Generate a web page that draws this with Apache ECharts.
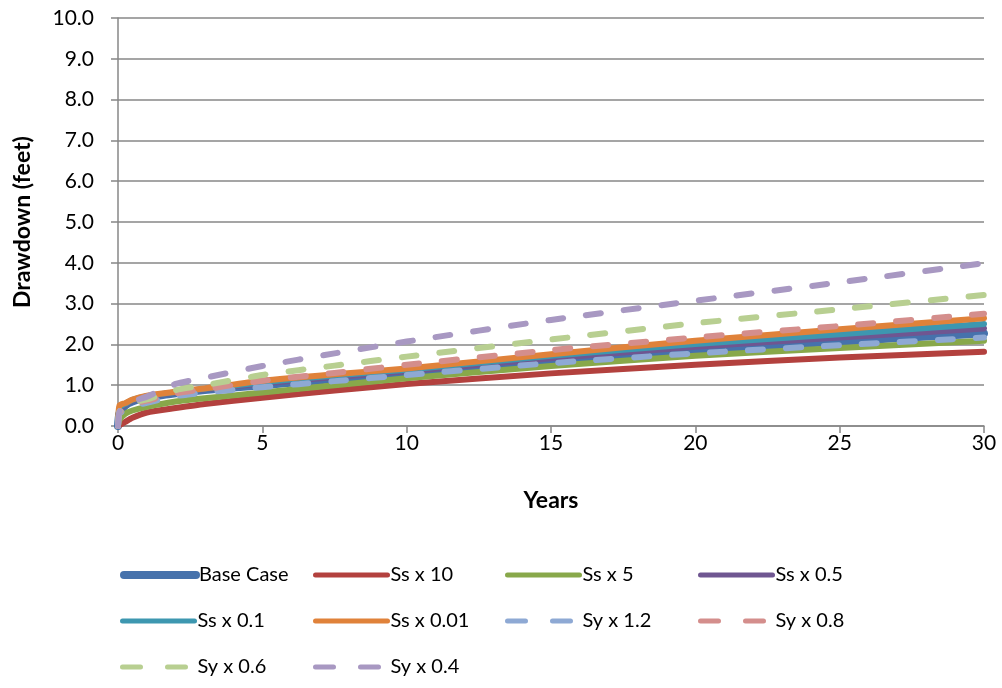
<!DOCTYPE html>
<html>
<head>
<meta charset="utf-8">
<script src="https://cdn.jsdelivr.net/npm/echarts@6/dist/echarts.min.js"></script>
<style>html,body{margin:0;padding:0;background:#fff}#c{width:1002px;height:688px}</style>
</head>
<body>
<div id="c"></div>
<script>
const years = [0, 0.05, 0.25, 0.5, 1, 2, 3, 5, 7.5, 10, 15, 20, 25, 30];
const baseCase = [0, 0.3, 0.5, 0.6, 0.7, 0.8, 0.88, 1.0, 1.15, 1.29, 1.59, 1.86, 2.07, 2.27];
const ssX10   = [0, 0.02, 0.1, 0.2, 0.33, 0.44, 0.54, 0.69, 0.87, 1.03, 1.29, 1.5, 1.68, 1.82];
const ssX5    = [0, 0.15, 0.3, 0.38, 0.47, 0.6, 0.68, 0.82, 1.0, 1.17, 1.47, 1.72, 1.91, 2.09];
const ssX05   = [0, 0.4, 0.52, 0.62, 0.72, 0.82, 0.9, 1.04, 1.2, 1.34, 1.66, 1.94, 2.17, 2.39];
const ssX01   = [0, 0.45, 0.54, 0.64, 0.73, 0.83, 0.91, 1.07, 1.24, 1.38, 1.72, 2.01, 2.25, 2.5];
const ssX001  = [0, 0.5, 0.56, 0.65, 0.74, 0.84, 0.92, 1.11, 1.27, 1.41, 1.76, 2.09, 2.37, 2.64];
const syX12   = [0, 0.3, 0.4, 0.48, 0.57, 0.73, 0.82, 0.95, 1.1, 1.25, 1.54, 1.78, 1.98, 2.17];
const syX08   = [0, 0.32, 0.45, 0.55, 0.62, 0.8, 0.9, 1.11, 1.3, 1.5, 1.86, 2.17, 2.45, 2.75];
const syX06   = [0, 0.35, 0.48, 0.58, 0.65, 0.88, 1.0, 1.25, 1.48, 1.7, 2.12, 2.52, 2.86, 3.21];
const syX04   = [0, 0.35, 0.5, 0.6, 0.72, 1.03, 1.18, 1.47, 1.78, 2.07, 2.6, 3.07, 3.52, 3.99];

const seriesNames = ['Base Case','Ss x 10','Ss x 5','Ss x 0.5','Ss x 0.1','Ss x 0.01','Sy x 1.2','Sy x 0.8','Sy x 0.6','Sy x 0.4'];
const seriesData = [baseCase, ssX10, ssX5, ssX05, ssX01, ssX001, syX12, syX08, syX06, syX04];
const colors = ['#4672AC','#B3413E','#88A84A','#6F5691','#3D97B0','#E0823A','#8EA9D4','#D48E8C','#B8CF91','#A898C2'];
const dashed = [false,false,false,false,false,false,true,true,true,true];
const widths = [8,6,6,6,6,6,6,6,6,6];
const legendWidths = [8,5,5,5,5,5,5,5,5,5];

const FONT = 'Lato';
const legendCols = [120, 313, 505, 698];
const legendRows = [565, 611, 657];

const series = seriesNames.map((n, i) => ({
  name: n,
  type: 'line',
  smooth: 0.2,
  symbol: 'none',
  showSymbol: false,
  data: years.map((t, k) => [t, seriesData[i][k]]),
  lineStyle: {
    color: colors[i],
    width: widths[i],
    type: dashed[i] ? [15, 23] : 'solid',
    cap: 'round',
    join: 'round'
  },
  itemStyle: { color: colors[i] }
}));

const legends = seriesNames.map((n, i) => ({
  data: [n],
  left: legendCols[i % 4],
  top: legendRows[Math.floor(i / 4)],
  itemWidth: 72,
  itemHeight: 18,
  itemGap: 0,
  padding: 0,
  itemStyle: { opacity: 0 },
  textStyle: { fontFamily: FONT, fontSize: 20, color: '#000', padding: [0, 0, 0, -2] },
  lineStyle: { width: legendWidths[i], type: dashed[i] ? [18, 27] : 'solid', cap: 'round', opacity: 1 }
}));

const chart = echarts.init(document.getElementById('c'), null, { renderer: 'canvas' });
chart.setOption({
  animation: false,
  backgroundColor: '#fff',
  grid: { left: 118, right: 18, top: 18, bottom: 262, containLabel: false },
  xAxis: {
    type: 'value', min: 0, max: 30, interval: 5,
    name: 'Years', nameLocation: 'middle', nameGap: 63,
    nameTextStyle: { fontFamily: FONT, fontSize: 23, fontWeight: 'bold', color: '#000' },
    axisLine: { show: true, lineStyle: { color: '#878787', width: 1.5 } },
    axisTick: { show: true, inside: false, length: 7, lineStyle: { color: '#878787', width: 1.5 } },
    axisLabel: { fontFamily: FONT, fontSize: 21, color: '#000', margin: 7 },
    splitLine: { show: false }
  },
  yAxis: {
    type: 'value', min: 0, max: 10, interval: 1,
    name: 'Drawdown (feet)', nameLocation: 'middle', nameGap: 84, nameRotate: 90,
    nameTextStyle: { fontFamily: FONT, fontSize: 23, fontWeight: 'bold', color: '#000' },
    axisLine: { show: true, lineStyle: { color: '#878787', width: 1.5 } },
    axisTick: { show: true, inside: false, length: 7, lineStyle: { color: '#878787', width: 1.5 } },
    axisLabel: { fontFamily: FONT, fontSize: 21, color: '#000', margin: 24, formatter: v => v.toFixed(1) },
    splitLine: { show: true, lineStyle: { color: '#878787', width: 1.5 } }
  },
  legend: legends,
  series: series
});
</script>
</body>
</html>
